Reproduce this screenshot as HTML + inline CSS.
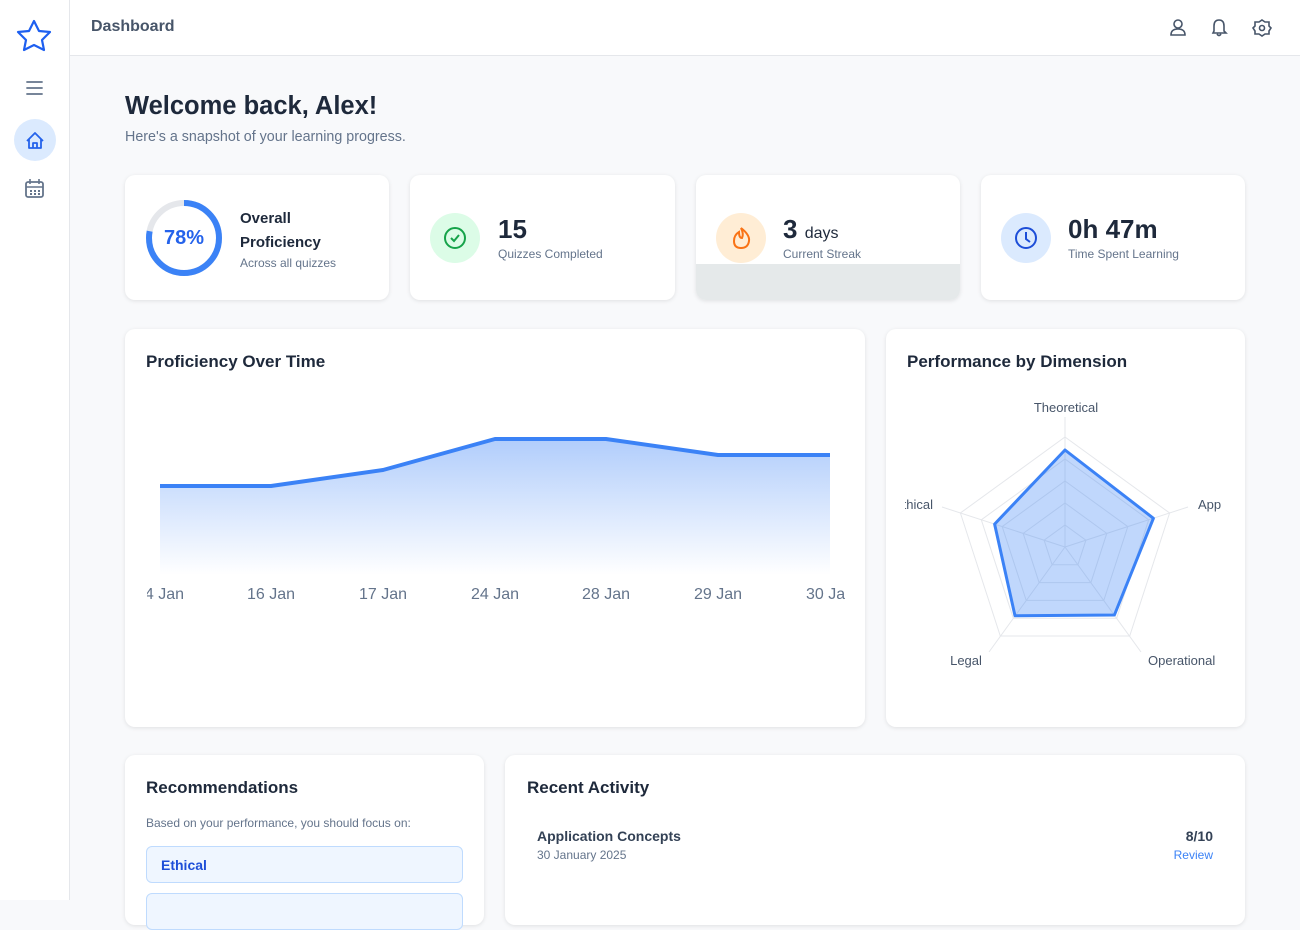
<!DOCTYPE html>
<html><head><meta charset="utf-8"><style>
*{margin:0;padding:0;box-sizing:border-box}
body{width:1300px;height:900px;overflow:hidden;background:#f8f9fb;font-family:"Liberation Sans",sans-serif;position:relative;color:#1e293b}
.a{position:absolute}
.card{position:absolute;background:#fff;border-radius:10px;box-shadow:0 1px 4px rgba(0,0,0,.1)}
.t{font-weight:bold}
</style></head><body>
<div class="a" style="left:0;top:0;width:70px;height:900px;background:#fff;border-right:1px solid #e5e7eb"></div>
<div class="a" style="left:70px;top:0;width:1230px;height:56px;background:#fff;border-bottom:1px solid #e5e7eb"></div>
<svg class="a" style="left:0;top:0" width="1300" height="900">
 <path d="M34 21 L39 31 L50 32 L42 40 L44 50 L34 45 L24 50 L26 40 L18 32 L29 31Z" fill="none" stroke="#1d5ff0" stroke-width="2.2" stroke-linejoin="round"/>
 <g stroke="#64748b" stroke-width="1.8" stroke-linecap="round"><line x1="27" y1="82" x2="42" y2="82"/><line x1="27" y1="88" x2="42" y2="88"/><line x1="27" y1="94" x2="42" y2="94"/></g>
 <circle cx="35" cy="140" r="21" fill="#dbeafe"/>
 <path d="M27 141 L35 133 L43 141 M29 139 V148 H41 V139 M33 148 V143 H37 V148" fill="none" stroke="#2563eb" stroke-width="1.8" stroke-linejoin="round"/>
 <rect x="26" y="182" width="17" height="15" rx="2" fill="none" stroke="#64748b" stroke-width="1.8"/><line x1="26" y1="187" x2="43" y2="187" stroke="#64748b" stroke-width="1.6"/><line x1="30" y1="179" x2="30" y2="184" stroke="#64748b" stroke-width="1.6"/><line x1="39" y1="179" x2="39" y2="184" stroke="#64748b" stroke-width="1.6"/>
 <g fill="#64748b"><rect x="30" y="190" width="2" height="2"/><rect x="34" y="190" width="2" height="2"/><rect x="38" y="190" width="2" height="2"/><rect x="30" y="193" width="2" height="2"/><rect x="34" y="193" width="2" height="2"/><rect x="38" y="193" width="2" height="2"/></g>
 <g fill="none" stroke="#475569" stroke-width="1.6">
  <circle cx="1178" cy="24" r="4"/><path d="M1171 35 Q1171 29 1178 29 Q1185 29 1185 35 Z"/>
  <path d="M1213 33 L1214 31 V26 Q1214 20 1219 20 Q1224 20 1224 26 V31 L1226 33 Z M1217 34 Q1219 37 1221 34"/>
  <circle cx="1262" cy="28" r="2.5"/><path d="M1262 20 L1265 22 L1269 22 L1269 26 L1271 28 L1269 31 L1269 34 L1265 34 L1262 36 L1259 34 L1255 34 L1255 31 L1253 28 L1255 26 L1255 22 L1259 22Z"/>
 </g>
</svg>
<div class="a t" style="left:91px;top:18px;font-size:16px;color:#475569">Dashboard</div>
<div class="a t" style="left:125px;top:92px;font-size:25.5px;color:#1e293b">Welcome back, Alex!</div>
<div class="a" style="left:125px;top:129px;font-size:14.3px;color:#64748b">Here's a snapshot of your learning progress.</div>

<div class="card" style="left:125px;top:175px;width:264px;height:125px"></div>
<div class="card" style="left:410px;top:175px;width:265px;height:125px"></div>
<div class="card" style="left:696px;top:175px;width:264px;height:125px;overflow:hidden"><div class="a" style="left:0;top:89px;width:264px;height:36px;background:#e5e9ea"></div></div>
<div class="card" style="left:981px;top:175px;width:264px;height:125px"></div>
<svg class="a" style="left:0;top:0" width="1300" height="320">
 <circle cx="184" cy="238" r="35" fill="none" stroke="#e5e7eb" stroke-width="6"/>
 <circle cx="184" cy="238" r="35" fill="none" stroke="#3b82f6" stroke-width="6" stroke-dasharray="171.5 220" transform="rotate(-90 184 238)"/>
 <circle cx="455" cy="238" r="25" fill="#dcfce7"/><circle cx="455" cy="238" r="10" fill="none" stroke="#16a34a" stroke-width="2"/><path d="M451 238 L454 241 L459 235" fill="none" stroke="#16a34a" stroke-width="2"/>
 <circle cx="741" cy="238" r="25" fill="#ffedd5"/><path d="M741 228 Q750 235 749 241 Q748 248 741 248 Q734 248 734 241 Q734 235 739 232 Q739 238 742 238 Q744 234 741 228Z" fill="none" stroke="#f97316" stroke-width="2"/>
 <circle cx="1026" cy="238" r="25" fill="#dbeafe"/><circle cx="1026" cy="238" r="10" fill="none" stroke="#1d4ed8" stroke-width="2"/><path d="M1026 232 V239 L1030 242" fill="none" stroke="#1d4ed8" stroke-width="2"/>
</svg>
<div class="a t" style="left:162px;top:227px;width:44px;text-align:center;font-size:20px;color:#2563eb">78%</div>
<div class="a" style="left:240px;top:207px;font-size:15px;line-height:24px;color:#1e293b;font-weight:bold">Overall<br>Proficiency</div>
<div class="a" style="left:240px;top:256px;font-size:12px;color:#64748b">Across all quizzes</div>
<div class="a t" style="left:498px;top:214px;font-size:26px">15</div>
<div class="a" style="left:498px;top:247px;font-size:12px;color:#64748b">Quizzes Completed</div>
<div class="a t" style="left:783px;top:214px;font-size:26px">3 <span style="font-size:16px;font-weight:normal">days</span></div>
<div class="a" style="left:783px;top:247px;font-size:12px;color:#64748b">Current Streak</div>
<div class="a t" style="left:1068px;top:214px;font-size:26px">0h 47m</div>
<div class="a" style="left:1068px;top:247px;font-size:12px;color:#64748b">Time Spent Learning</div>

<div class="card" style="left:125px;top:329px;width:740px;height:398px"></div>
<div class="card" style="left:886px;top:329px;width:359px;height:398px"></div>
<div class="a t" style="left:146px;top:352px;font-size:17px">Proficiency Over Time</div>
<div class="a t" style="left:907px;top:352px;font-size:17px">Performance by Dimension</div>
<svg class="a" style="left:0;top:0" width="1300" height="740">
 <defs><linearGradient id="g" x1="0" y1="0" x2="0" y2="1"><stop offset="0" stop-color="#3b82f6" stop-opacity=".4"/><stop offset="1" stop-color="#3b82f6" stop-opacity="0"/></linearGradient>
 <clipPath id="c1"><rect x="147" y="380" width="698" height="240"/></clipPath><clipPath id="c2"><rect x="905" y="380" width="320" height="320"/></clipPath></defs>
 <path d="M160 486 L271 486 L383 470 L495 439 L606 439 L718 455 L830 455 L830 575 L160 575Z" fill="url(#g)"/>
 <polyline points="160,486 271,486 383,470 495,439 606,439 718,455 830,455" fill="none" stroke="#3b82f6" stroke-width="4" stroke-linejoin="round"/>
 <g clip-path="url(#c1)" font-size="16" fill="#64748b" text-anchor="middle" font-family="Liberation Sans,sans-serif">
  <text x="160" y="599">14 Jan</text><text x="271" y="599">16 Jan</text><text x="383" y="599">17 Jan</text><text x="495" y="599">24 Jan</text><text x="606" y="599">28 Jan</text><text x="718" y="599">29 Jan</text><text x="830" y="599">30 Jan</text>
 </g>
 <g fill="none" stroke="#e5e7eb" stroke-width="1">
  <polygon points="1065,437 1169.6,513 1129.7,636 1000.3,636 960.4,513"/>
  <polygon points="1065,459 1148.7,519.8 1116.7,618.2 1013.3,618.2 981.3,519.8"/>
  <polygon points="1065,481 1127.8,526.6 1103.8,600.4 1026.2,600.4 1002.2,526.6"/>
  <polygon points="1065,503 1106.8,533.4 1090.9,582.6 1039.1,582.6 1023.2,533.4"/>
  <polygon points="1065,525 1085.9,540.2 1077.9,564.8 1052.1,564.8 1044.1,540.2"/>
  <line x1="1065" y1="547" x2="1065" y2="417"/><line x1="1065" y1="547" x2="1188" y2="507"/><line x1="1065" y1="547" x2="1141" y2="652"/><line x1="1065" y1="547" x2="989" y2="652"/><line x1="1065" y1="547" x2="942" y2="507"/>
 </g>
 <polygon points="1065,450 1153.4,518.3 1114.4,615 1015,615.8 994.6,524.1" fill="#3b82f6" fill-opacity=".32" stroke="#3b82f6" stroke-width="3" stroke-linejoin="round"/>
 <g clip-path="url(#c2)" font-size="13" fill="#475569" font-family="Liberation Sans,sans-serif">
  <text x="1066" y="412" text-anchor="middle">Theoretical</text>
  <text x="1198" y="509">App</text>
  <text x="933" y="509" text-anchor="end">Ethical</text>
  <text x="966" y="665" text-anchor="middle">Legal</text>
  <text x="1148" y="665">Operational</text>
 </g>
</svg>

<div class="card" style="left:125px;top:755px;width:359px;height:170px"></div>
<div class="card" style="left:505px;top:755px;width:740px;height:170px"></div>
<div class="a t" style="left:146px;top:778px;font-size:17px">Recommendations</div>
<div class="a" style="left:146px;top:816px;font-size:12px;color:#64748b">Based on your performance, you should focus on:</div>
<div class="a" style="left:146px;top:846px;width:317px;height:37px;background:#eff6ff;border:1px solid #bfdbfe;border-radius:6px;font-size:14px;color:#1d4ed8;padding:10px 14px;font-weight:bold">Ethical</div>
<div class="a" style="left:146px;top:893px;width:317px;height:37px;background:#eff6ff;border:1px solid #bfdbfe;border-radius:6px"></div>
<div class="a t" style="left:527px;top:778px;font-size:17px">Recent Activity</div>
<div class="a t" style="left:537px;top:828px;font-size:14px;color:#334155">Application Concepts</div>
<div class="a" style="left:537px;top:848px;font-size:12px;color:#64748b">30 January 2025</div>
<div class="a t" style="left:1150px;top:828px;width:63px;text-align:right;font-size:14px;color:#334155">8/10</div>
<div class="a" style="left:1150px;top:848px;width:63px;text-align:right;font-size:12px;color:#3b82f6">Review</div>
</body></html>
